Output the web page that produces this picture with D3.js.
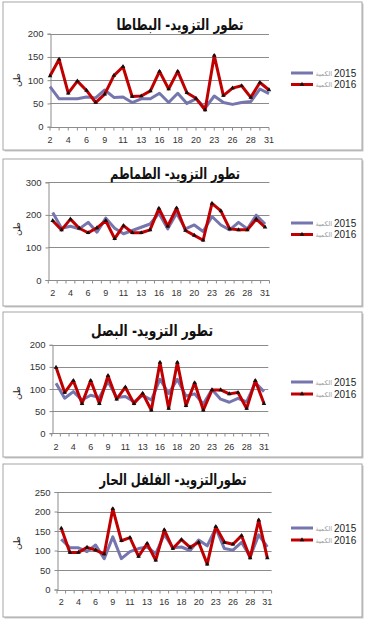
<!DOCTYPE html>
<html><head><meta charset="utf-8">
<script src="https://cdn.jsdelivr.net/npm/d3@7"></script>
<style>
html,body{margin:0;padding:0;background:#fff;}
svg{display:block;}
</style></head>
<body>
<svg id="c" width="365" height="619"></svg>
<script>
// ---- data ----
const days = ["2","3","4","5","6","8","9","10","11","12","13","15","16","17","18","19","20","22","23","25","26","27","28","30","31"];
const seriesNames = ["2015", "2016"];
const legendWord = "الكمية";
const yUnit = "طن";

const titles = ["تطور التزويد- البطاطا", "تطور التزويد- الطماطم", "تطور التزويد- البصل", "تطورالتزويد- الفلفل الحار"];

const potato2015 = [86,60,60,60,64,62,79,63,64,52,60,60,72,52,72,50,60,40,66,52,48,52,54,81,71];
const potato2016 = [109,145,72,98,78,52,70,110,129,65,66,77,119,81,119,73,61,36,153,67,83,88,63,95,79];
const tomato2015 = [207,159,165,157,177,147,190,159,142,152,162,172,205,157,205,157,169,149,195,169,154,177,157,199,172];
const tomato2016 = [182,154,187,159,145,160,182,127,167,145,145,154,220,165,221,152,137,122,235,212,157,154,154,187,162];
const onion2015 = [113,79,94,75,86,81,117,81,83,71,86,75,122,90,122,84,89,66,99,77,70,79,71,114,94];
const onion2016 = [149,92,119,67,119,67,130,77,104,67,90,52,160,56,160,62,114,52,98,98,89,92,56,119,67];
const pepper2015 = [129,107,107,97,114,79,135,79,97,105,109,92,141,107,109,100,127,112,157,105,101,121,84,140,109];
const pepper2016 = [157,95,95,108,101,91,207,125,133,85,118,75,153,105,128,108,121,65,161,121,116,138,81,178,81];

const yTicks1 = [0,50,100,150,200];
const yTicks2 = [0,100,200,300];
const yTicks3 = [0,50,100,150,200];
const yTicks4 = [0,50,100,150,200,250];

// ---- layout ----
const panels = [
  {box:[3,2,359,148], title:titles[0], tx:180, ty:30, tw:127, a:potato2015, b:potato2016, ticks:yTicks1, max:200,
   x0:50, x1:269, yTop:33.7, yBot:126.7, onTick:true, xl:143, ly:[73,84.5], yl:80},
  {box:[3,159,359,147], title:titles[1], tx:175, ty:179, tw:130, a:tomato2015, b:tomato2016, ticks:yTicks2, max:300,
   x0:48.3, x1:269.5, yTop:182.3, yBot:280, onTick:false, xl:296, ly:[223,234.5], yl:229},
  {box:[3,312,359,145], title:titles[2], tx:152, ty:336, tw:122, a:onion2015, b:onion2016, ticks:yTicks3, max:200,
   x0:51.7, x1:268.3, yTop:344.8, yBot:433.2, onTick:false, xl:450, ly:[382,394], yl:393},
  {box:[3,464,359,153], title:titles[3], tx:173, ty:485, tw:147, a:pepper2015, b:pepper2016, ticks:yTicks4, max:250,
   x0:57, x1:271.6, yTop:492, yBot:589.5, onTick:false, xl:605, ly:[528,540], yl:543}
];

const colA = "#7676ae", colB = "#c00000", gridCol = "#8c8c8c";
const svg = d3.select("#c");

panels.forEach(p => {
  const g = svg.append("g");
  // frame
  g.append("rect").attr("x",p.box[0]+1.5).attr("y",p.box[1]+1.5).attr("width",p.box[2]).attr("height",p.box[3])
    .attr("fill","#c8c8c8");
  g.append("rect").attr("x",p.box[0]).attr("y",p.box[1]).attr("width",p.box[2]).attr("height",p.box[3])
    .attr("fill","#fff").attr("stroke","#a6a6a6").attr("stroke-width",1);

  // scales
  const x = d3.scalePoint().domain(days).range([p.x0, p.x1]).padding(p.onTick ? 0 : 0.5);
  const y = d3.scaleLinear().domain([0, p.max]).range([p.yBot, p.yTop]);

  // gridlines
  g.append("g").selectAll("line").data(p.ticks.filter(t => t > 0)).join("line")
    .attr("x1", p.x0).attr("x2", p.x1)
    .attr("y1", d => Math.round(y(d))+0.5).attr("y2", d => Math.round(y(d))+0.5)
    .attr("stroke", gridCol).attr("stroke-width", 1);

  // y axis
  const ya = d3.axisLeft(y).tickValues(p.ticks).tickSize(3).tickPadding(4).tickFormat(d3.format("d"));
  const yg = g.append("g").attr("transform", `translate(${Math.round(p.x0)+0.5},0)`).call(ya);
  yg.select(".domain").attr("stroke", gridCol);
  yg.selectAll(".tick line").attr("stroke", gridCol);
  yg.selectAll("text").attr("font-family","Liberation Sans, Arial, sans-serif").attr("font-size",9.5).attr("fill","#333");

  // x axis
  const step = x.step();
  const bounds = p.onTick ? days.map(d => x(d)) : days.map(d => x(d) - step/2).concat([p.x1]);
  const xb = Math.round(p.yBot)+0.5;
  g.append("line").attr("x1",p.x0).attr("x2",p.x1).attr("y1",xb).attr("y2",xb).attr("stroke",gridCol);
  g.append("g").selectAll("line").data(bounds).join("line")
    .attr("x1", d => d).attr("x2", d => d).attr("y1", xb).attr("y2", xb+3).attr("stroke", gridCol);
  g.append("g").selectAll("text").data(days.filter((d,i) => i % 2 === 0)).join("text")
    .attr("x", d => x(d)).attr("y", p.xl).attr("text-anchor","middle")
    .attr("font-family","Liberation Sans, Arial, sans-serif").attr("font-size",9).attr("fill","#333")
    .text(d => d);

  // y unit label
  g.append("text").attr("transform", `translate(${20},${p.yl}) rotate(-90)`).attr("text-anchor","middle")
    .attr("font-family","DejaVu Sans, sans-serif").attr("font-size",9).attr("fill","#222").text(yUnit);

  // title
  g.append("text").attr("x", p.tx).attr("y", p.ty).attr("text-anchor","middle")
    .attr("font-family","DejaVu Sans, sans-serif").attr("font-weight","bold").attr("font-size",16)
    .attr("textLength", p.tw).attr("lengthAdjust","spacingAndGlyphs")
    .attr("fill","#111").text(p.title);

  // lines
  const line = d3.line().x((d,i) => x(days[i])).y(d => y(d));
  g.append("path").datum(p.a).attr("d", line).attr("fill","none").attr("stroke",colA).attr("stroke-width",3)
    .attr("stroke-linejoin","round");
  g.append("path").datum(p.b).attr("d", line).attr("fill","none").attr("stroke",colB).attr("stroke-width",3)
    .attr("stroke-linejoin","round");
  const tri = d3.symbol().type(d3.symbolTriangle).size(9);
  g.append("g").selectAll("path").data(p.b).join("path")
    .attr("transform",(d,i) => `translate(${x(days[i])},${y(d)})`).attr("d", tri).attr("fill","#111");

  // legend
  [0,1].forEach(k => {
    const ly = p.ly[k];
    g.append("line").attr("x1",291).attr("x2",313).attr("y1",ly).attr("y2",ly)
      .attr("stroke", k===0 ? colA : colB).attr("stroke-width",3);
    if (k===1) g.append("path").attr("transform",`translate(302,${ly})`).attr("d",tri).attr("fill","#111");
    g.append("text").attr("x",332).attr("y",ly+2.5).attr("text-anchor","end")
      .attr("font-family","DejaVu Sans, sans-serif").attr("font-size",6.5).attr("fill","#999").text(legendWord);
    g.append("text").attr("x",334).attr("y",ly+3.5)
      .attr("font-family","Liberation Sans, Arial, sans-serif").attr("font-size",10).attr("fill","#222").text(seriesNames[k]);
  });
});
</script>
</body></html>
